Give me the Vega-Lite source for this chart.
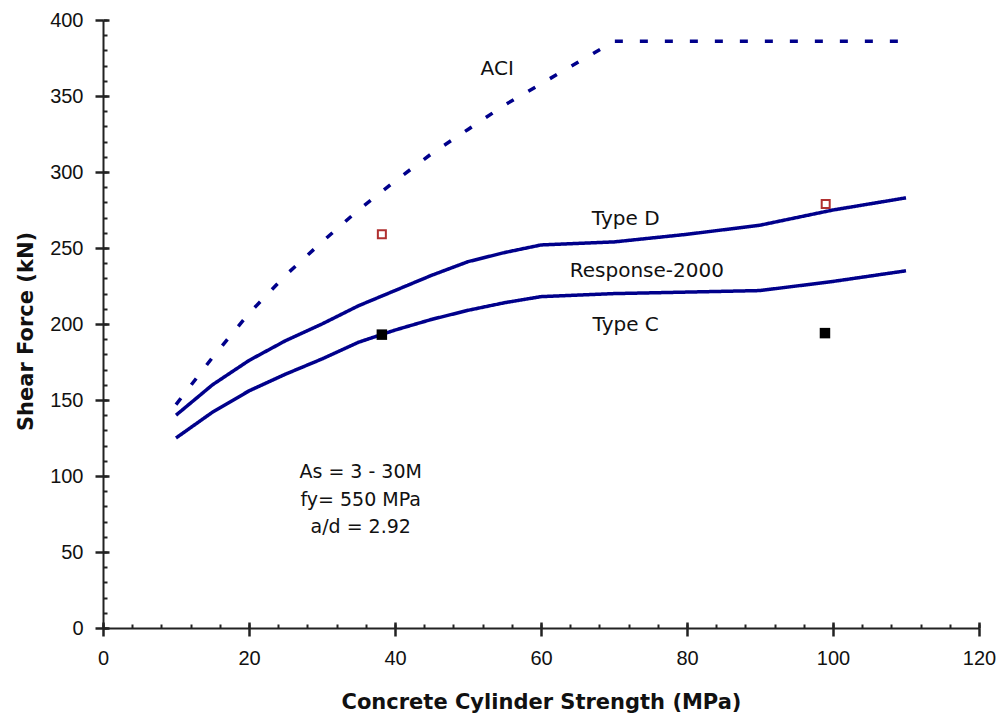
{
  "$schema": "https://vega.github.io/schema/vega-lite/v6.json",
  "width": 876,
  "height": 608,
  "autosize": {"type": "none"},
  "padding": {"left": 103, "top": 20, "right": 18, "bottom": 89},
  "background": "white",
  "config": {"view": {"stroke": null}, "axis": {"grid": false}},
  "datasets": {
    "curves": [
      {"series": "ACI", "x": 10, "y": 147},
      {"series": "ACI", "x": 15, "y": 178},
      {"series": "ACI", "x": 20, "y": 207},
      {"series": "ACI", "x": 25, "y": 232},
      {"series": "ACI", "x": 30, "y": 254},
      {"series": "ACI", "x": 35, "y": 275},
      {"series": "ACI", "x": 40, "y": 294},
      {"series": "ACI", "x": 45, "y": 312},
      {"series": "ACI", "x": 50, "y": 328},
      {"series": "ACI", "x": 55, "y": 344},
      {"series": "ACI", "x": 60, "y": 358},
      {"series": "ACI", "x": 65, "y": 372},
      {"series": "ACI", "x": 70, "y": 386},
      {"series": "ACI", "x": 80, "y": 386},
      {"series": "ACI", "x": 90, "y": 386},
      {"series": "ACI", "x": 100, "y": 386},
      {"series": "ACI", "x": 110, "y": 386},
      {"series": "Type D", "x": 10, "y": 140},
      {"series": "Type D", "x": 15, "y": 160},
      {"series": "Type D", "x": 20, "y": 176},
      {"series": "Type D", "x": 25, "y": 189},
      {"series": "Type D", "x": 30, "y": 200},
      {"series": "Type D", "x": 35, "y": 212},
      {"series": "Type D", "x": 40, "y": 222},
      {"series": "Type D", "x": 45, "y": 232},
      {"series": "Type D", "x": 50, "y": 241},
      {"series": "Type D", "x": 55, "y": 247},
      {"series": "Type D", "x": 60, "y": 252},
      {"series": "Type D", "x": 70, "y": 254},
      {"series": "Type D", "x": 80, "y": 259},
      {"series": "Type D", "x": 90, "y": 265},
      {"series": "Type D", "x": 100, "y": 275},
      {"series": "Type D", "x": 110, "y": 283},
      {"series": "Response-2000", "x": 10, "y": 125},
      {"series": "Response-2000", "x": 15, "y": 142},
      {"series": "Response-2000", "x": 20, "y": 156},
      {"series": "Response-2000", "x": 25, "y": 167},
      {"series": "Response-2000", "x": 30, "y": 177},
      {"series": "Response-2000", "x": 35, "y": 188},
      {"series": "Response-2000", "x": 40, "y": 196},
      {"series": "Response-2000", "x": 45, "y": 203},
      {"series": "Response-2000", "x": 50, "y": 209},
      {"series": "Response-2000", "x": 55, "y": 214},
      {"series": "Response-2000", "x": 60, "y": 218},
      {"series": "Response-2000", "x": 70, "y": 220},
      {"series": "Response-2000", "x": 80, "y": 221},
      {"series": "Response-2000", "x": 90, "y": 222},
      {"series": "Response-2000", "x": 100, "y": 228},
      {"series": "Response-2000", "x": 110, "y": 235}
    ],
    "testD": [
      {"x": 38.2, "y": 259},
      {"x": 99.0, "y": 279}
    ],
    "testC": [
      {"x": 38.2, "y": 193},
      {"x": 98.9, "y": 194}
    ],
    "labels": [
      {"label": "ACI", "x": 54, "y": 364},
      {"label": "Type D", "x": 71.6, "y": 265},
      {"label": "Response-2000", "x": 74.5, "y": 231},
      {"label": "Type C", "x": 71.6, "y": 195.6}
    ],
    "notes": [
      {"label": "As = 3 - 30M", "x": 35.3, "y": 98.5},
      {"label": "fy= 550 MPa", "x": 35.3, "y": 80.3},
      {"label": "a/d = 2.92", "x": 35.3, "y": 62.3}
    ]
  },
  "layer": [
    {
      "data": {"name": "curves"},
      "mark": {"type": "line", "color": "#00008b", "strokeWidth": 3.5, "strokeCap": "butt"},
      "encoding": {
        "x": {
          "field": "x", "type": "quantitative",
          "scale": {"domain": [0, 120], "nice": false, "zero": false},
          "axis": {
            "orient": "bottom",
            "values": [0, 20, 40, 60, 80, 100, 120],
            "title": "Concrete Cylinder Strength (MPa)",
            "domainColor": "#222", "domainWidth": 2,
            "tickColor": "#222", "tickWidth": 2.5, "tickSize": 8,
            "labelFont": "Liberation Sans", "labelFontSize": 20, "labelColor": "#111",
            "labelPadding": 12, "labelFlush": false, "labelOverlap": false,
            "titleFont": "DejaVu Sans", "titleFontWeight": "bold", "titleFontSize": 21, "titleColor": "#111",
            "titleBaseline": "alphabetic", "titleY": 80
          }
        },
        "y": {
          "field": "y", "type": "quantitative",
          "scale": {"domain": [0, 400], "nice": false},
          "axis": {
            "orient": "left",
            "values": [0, 50, 100, 150, 200, 250, 300, 350, 400],
            "title": "Shear Force (kN)",
            "domainColor": "#222", "domainWidth": 2,
            "tickColor": "#222", "tickWidth": 2.5, "tickSize": 8,
            "labelFont": "Liberation Sans", "labelFontSize": 20, "labelColor": "#111",
            "labelPadding": 12, "labelFlush": false, "labelOverlap": false,
            "titleFont": "DejaVu Sans", "titleFontWeight": "bold", "titleFontSize": 21, "titleColor": "#111",
            "titleBaseline": "alphabetic", "titleX": -71, "titleY": 311, "titleAngle": -90
          }
        },
        "detail": {"field": "series", "type": "nominal"},
        "strokeDash": {
          "field": "series", "type": "nominal",
          "scale": {"domain": ["ACI", "Type D", "Response-2000"], "range": [[8, 17], [1, 0], [1, 0]]},
          "legend": null
        }
      }
    },
    {
      "data": {"name": "testD"},
      "mark": {"type": "point", "shape": "square", "filled": false, "stroke": "#b03030", "strokeWidth": 2, "size": 64, "opacity": 1},
      "encoding": {
        "x": {
          "field": "x", "type": "quantitative",
          "axis": {
            "orient": "bottom",
            "values": [0, 4, 8, 12, 16, 20, 24, 28, 32, 36, 40, 44, 48, 52, 56, 60, 64, 68, 72, 76, 80, 84, 88, 92, 96, 100, 104, 108, 112, 116, 120],
            "tickSize": -4, "tickWidth": 2, "tickColor": "#222",
            "labels": false, "domain": false, "title": null
          }
        },
        "y": {
          "field": "y", "type": "quantitative",
          "axis": {
            "orient": "left",
            "values": [0, 10, 20, 30, 40, 50, 60, 70, 80, 90, 100, 110, 120, 130, 140, 150, 160, 170, 180, 190, 200, 210, 220, 230, 240, 250, 260, 270, 280, 290, 300, 310, 320, 330, 340, 350, 360, 370, 380, 390, 400],
            "tickSize": -4, "tickWidth": 2, "tickColor": "#222",
            "labels": false, "domain": false, "title": null
          }
        }
      }
    },
    {
      "data": {"name": "testC"},
      "mark": {"type": "point", "shape": "square", "filled": true, "color": "#000000", "size": 110, "opacity": 1},
      "encoding": {
        "x": {
          "field": "x", "type": "quantitative",
          "axis": {
            "orient": "bottom",
            "values": [0, 20, 40, 60, 80, 100, 120],
            "tickSize": -6, "tickWidth": 2.5, "tickColor": "#222",
            "labels": false, "domain": false, "title": null
          }
        },
        "y": {
          "field": "y", "type": "quantitative",
          "axis": {
            "orient": "left",
            "values": [0, 50, 100, 150, 200, 250, 300, 350, 400],
            "tickSize": -6, "tickWidth": 2.5, "tickColor": "#222",
            "labels": false, "domain": false, "title": null
          }
        }
      }
    },
    {
      "data": {"name": "labels"},
      "mark": {"type": "text", "font": "DejaVu Sans", "fontSize": 20, "color": "#111", "align": "center", "baseline": "alphabetic"},
      "encoding": {
        "x": {"field": "x", "type": "quantitative", "axis": null},
        "y": {"field": "y", "type": "quantitative", "axis": null},
        "text": {"field": "label", "type": "nominal"}
      }
    },
    {
      "data": {"name": "notes"},
      "mark": {"type": "text", "font": "DejaVu Sans", "fontSize": 19, "color": "#111", "align": "center", "baseline": "alphabetic"},
      "encoding": {
        "x": {"field": "x", "type": "quantitative", "axis": null},
        "y": {"field": "y", "type": "quantitative", "axis": null},
        "text": {"field": "label", "type": "nominal"}
      }
    }
  ],
  "resolve": {"axis": {"x": "independent", "y": "independent"}}
}
